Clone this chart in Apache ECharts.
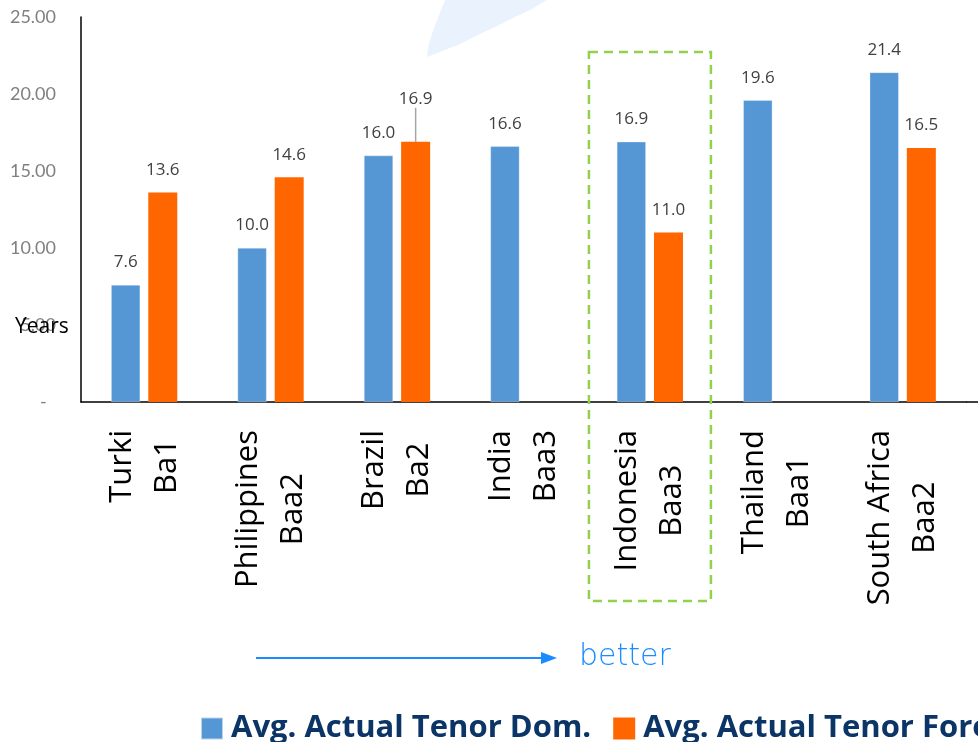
<!DOCTYPE html>
<html>
<head>
<meta charset="utf-8">
<script src="https://cdn.jsdelivr.net/npm/echarts@6/dist/echarts.min.js"></script>
<style>
  html, body { margin: 0; padding: 0; background: #fff; }
  #chart { width: 978px; height: 742px; }
</style>
</head>
<body>
<div id="chart"></div>
<script>
// countries with their rating, shown on two lines under each group
var countries = ['Turki', 'Philippines', 'Brazil', 'India', 'Indonesia', 'Thailand', 'South Africa'];
var ratings = ['Ba1', 'Baa2', 'Ba2', 'Baa3', 'Baa3', 'Baa1', 'Baa2'];
var tenorDom = [7.6, 10.0, 16.0, 16.6, 16.9, 19.6, 21.4];
var tenorFor = [13.6, 14.6, 16.9, null, 11.0, null, 16.5];

var categories = countries.map(function (c, i) { return c + '\n' + ratings[i]; });

var xFontSize = 31;

// measure both lines so the shorter one can be centred on the longer
var ctx = document.createElement('canvas').getContext('2d');
ctx.font = xFontSize + 'px "Open Sans"';
var xRich = {
    c: { fontSize: xFontSize, lineHeight: 45, color: '#000', fontFamily: 'Open Sans' }
};
countries.forEach(function (c, i) {
    var w1 = ctx.measureText(c).width;
    var w2 = ctx.measureText(ratings[i]).width;
    xRich['a' + i] = { width: Math.max(0, (w2 - w1) / 2), fontSize: xFontSize, lineHeight: 45 };
    xRich['b' + i] = { width: Math.max(0, (w1 - w2) / 2), fontSize: xFontSize, lineHeight: 45 };
});

var chart = echarts.init(document.getElementById('chart'));

var labelStyle = {
    show: true,
    position: 'top',
    distance: 14,
    color: '#404040',
    fontSize: 17,
    fontFamily: 'Open Sans',
    formatter: function (p) { return p.value == null ? '' : Number(p.value).toFixed(1); }
};

chart.setOption({
    animation: false,
    color: ['#5596d4', '#ff6600'],
    grid: { left: 81, right: 12, top: 17, bottom: 340 },
    legend: {
        left: 200,
        top: 713,
        width: 1400,
        padding: 0,
        itemWidth: 22,
        itemHeight: 22,
        itemGap: 22,
        icon: 'rect',
        textStyle: {
            color: '#0b3566',
            fontSize: 31,
            fontWeight: 'bold',
            fontFamily: 'Open Sans',
            padding: [0, 0, 0, 3]
        }
    },
    xAxis: {
        type: 'category',
        data: categories,
        axisLine: { lineStyle: { color: '#000', width: 1.5 } },
        axisTick: { show: false },
        axisLabel: {
            interval: 0,
            rotate: 90,
            margin: 28,
            formatter: function (v) {
                var i = countries.indexOf(v.split('\n')[0]);
                return '{c|' + countries[i] + '}{a' + i + '| }\n{c|' + ratings[i] + '}{b' + i + '| }';
            },
            rich: xRich
        }
    },
    yAxis: {
        type: 'value',
        min: 0,
        max: 25,
        interval: 5,
        splitLine: { show: false },
        axisTick: { show: false },
        axisLine: { show: true, lineStyle: { color: '#000', width: 1.5 } },
        axisLabel: {
            margin: 25,
            color: '#808080',
            fontSize: 18,
            fontFamily: 'Lato',
            formatter: function (v) { return v === 0 ? '-  ' : v.toFixed(2); }
        }
    },
    series: [
        {
            name: 'Avg. Actual Tenor Dom.',
            type: 'bar',
            barWidth: 29,
            barGap: '28%',
            data: tenorDom,
            itemStyle: { borderColor: 'rgba(255,255,255,0.6)', borderWidth: 0.5 },
            label: labelStyle
        },
        {
            name: 'Avg. Actual Tenor Foreign',
            type: 'bar',
            barWidth: 29,
            data: tenorFor.map(function (v, i) {
                if (i === 2) return { value: v, labelLine: { show: true, lineStyle: { color: '#a6a6a6', width: 1.5 } } };
                return v;
            }),
            label: labelStyle,
            labelLayout: function (p) {
                if (p.dataIndex === 2) return { dy: -20 };
                return {};
            }
        }
    ]
});

// decorations: watermark, "Years", highlight box, arrow
var cx = chart.convertToPixel({ xAxisIndex: 0 }, categories[4]);
var yTop = chart.convertToPixel({ yAxisIndex: 0 }, 25);
var yFive = chart.convertToPixel({ yAxisIndex: 0 }, 5);

chart.setOption({
    graphic: [
        {
            type: 'polygon',
            z: -10,
            shape: {
                points: [[427, 57], [428, 48], [430, 40], [433, 31], [437, 20], [441, 10], [445, 0],
                         [547, 0], [532, 9], [513, 18], [497, 26], [480, 34], [460, 44], [440, 52]]
            },
            style: { fill: '#eaf3fd' }
        },
        {
            type: 'line',
            shape: { x1: 966, y1: 402, x2: 978, y2: 402 },
            style: { stroke: '#000', lineWidth: 1.5 }
        },
        {
            type: 'text',
            left: 15,
            top: yFive - 8,
            z: 100,
            style: { text: 'Years', fill: '#000', font: '21px "Open Sans"' }
        },
        {
            type: 'rect',
            z: 100,
            shape: { x: cx - 61, y: yTop + 35, width: 122, height: 549 },
            style: { fill: 'none', stroke: '#92d050', lineWidth: 2.5, lineDash: [9, 6] }
        },
        {
            type: 'line',
            shape: { x1: 256, y1: 658, x2: 543, y2: 658 },
            style: { stroke: '#1a8cff', lineWidth: 2 }
        },
        {
            type: 'polygon',
            shape: { points: [[541, 652], [557, 658], [541, 664]] },
            style: { fill: '#1a8cff' }
        },
        {
            type: 'text',
            left: 579,
            top: 642,
            style: { text: 'better', fill: '#1a8cff', font: '300 30px "DejaVu Sans"' }
        }
    ]
});
</script>
</body>
</html>
